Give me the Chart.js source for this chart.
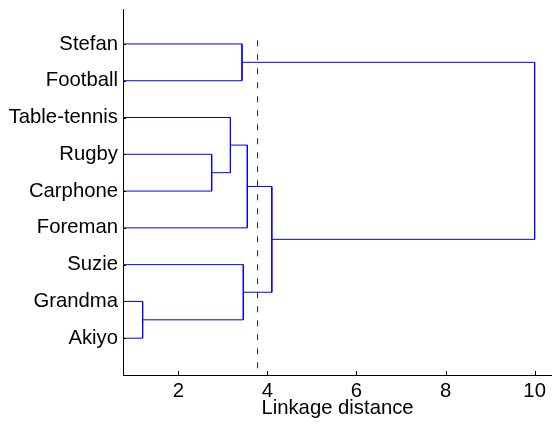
<!DOCTYPE html>
<html>
<head>
<meta charset="utf-8">
<script src="https://cdn.jsdelivr.net/npm/chart.js@4/dist/chart.umd.min.js"></script>
<style>
  html, body { margin: 0; padding: 0; background: #fff; }
  #wrap { width: 552px; height: 425px; position: relative; }
</style>
</head>
<body>
<div id="wrap"><canvas id="c"></canvas></div>
<script>
// Leaves, listed top to bottom in dendrogram order
const leaves = ['Stefan', 'Football', 'Table-tennis', 'Rugby', 'Carphone', 'Foreman', 'Suzie', 'Grandma', 'Akiyo'];

// Linkage table: merge k joins nodes mergeA[k] and mergeB[k] at mergeHeight[k].
// Ids 0..8 are leaves; id 9 + k is the cluster formed by merge k.
const mergeA = [7, 3, 2, 0, 6, 11, 14, 12];
const mergeB = [8, 4, 10, 1, 9, 5, 13, 15];
const mergeHeight = [1.20, 2.75, 3.17, 3.43, 3.46, 3.55, 4.10, 10.0];

// Cut-off threshold drawn as a dashed line
const cutoff = 3.78;
const cutoffTop = 0.9;

const xTicks = [2, 4, 6, 8, 10];

const LINK_COLOR = '#0000ff';
const FONT = { family: '"Liberation Sans", Arial, Helvetica, sans-serif', size: 20.3 };

// Node positions: leaves sit at 1..n, merges sit halfway between their children
const nodeY = leaves.map((_, i) => i + 1);
const nodeH = leaves.map(() => 0);
const linkSets = [];
mergeA.forEach((a, k) => {
  const b = mergeB[k];
  const h = mergeHeight[k];
  linkSets.push({
    data: [
      { x: nodeH[a], y: nodeY[a] },
      { x: h, y: nodeY[a] },
      { x: h, y: nodeY[b] },
      { x: nodeH[b], y: nodeY[b] }
    ],
    borderColor: LINK_COLOR,
    borderWidth: 1,
    showLine: true,
    pointRadius: 0,
    tension: 0,
    fill: false
  });
  nodeY.push((nodeY[a] + nodeY[b]) / 2);
  nodeH.push(h);
});

const cutSet = {
  data: [{ x: cutoff, y: cutoffTop }, { x: cutoff, y: 10 }],
  borderColor: '#222',
  borderWidth: 1,
  borderDash: [6, 8],
  showLine: true,
  pointRadius: 0,
  fill: false
};

// Short tick marks pointing into the plot area
const innerTicks = {
  id: 'innerTicks',
  afterDatasetsDraw(chart) {
    const { ctx, chartArea, scales } = chart;
    ctx.save();
    ctx.strokeStyle = '#000';
    ctx.lineWidth = 1;
    ctx.beginPath();
    scales.x.ticks.forEach(t => {
      const px = Math.round(scales.x.getPixelForValue(t.value)) + 0.5;
      ctx.moveTo(px, chartArea.bottom);
      ctx.lineTo(px, chartArea.bottom - 4);
    });
    scales.y.ticks.forEach(t => {
      const py = Math.round(scales.y.getPixelForValue(t.value)) + 0.5;
      ctx.moveTo(chartArea.left, py);
      ctx.lineTo(chartArea.left + 3, py);
    });
    ctx.stroke();
    ctx.restore();
  }
};

new Chart(document.getElementById('c'), {
  type: 'scatter',
  data: { datasets: [...linkSets, cutSet] },
  options: {
    responsive: true,
    maintainAspectRatio: false,
    animation: false,
    layout: { padding: { top: 9, right: 0, left: 0, bottom: 0 } },
    plugins: {
      legend: { display: false },
      tooltip: { enabled: false }
    },
    scales: {
      x: {
        type: 'linear',
        min: 0.759,
        max: 10.39,
        afterBuildTicks: s => { s.ticks = xTicks.map(v => ({ value: v })); },
        afterFit: s => { s.height = 50; s.paddingLeft = 0; s.paddingRight = 0; },
        grid: { display: false, drawTicks: false },
        border: { display: true, color: '#000', width: 1 },
        ticks: { color: '#000', font: FONT, padding: 4, maxRotation: 0 },
        title: {
          display: true,
          text: 'Linkage distance',
          color: '#000',
          font: FONT,
          padding: { top: 0, bottom: 4 }
        }
      },
      y: {
        type: 'linear',
        reverse: true,
        min: 0.05,
        max: 10,
        afterBuildTicks: s => { s.ticks = leaves.map((_, i) => ({ value: i + 1 })); },
        afterFit: s => { s.width = 123; s.paddingTop = 0; s.paddingBottom = 0; },
        grid: { display: false, drawTicks: false },
        border: { display: true, color: '#000', width: 1 },
        ticks: {
          color: '#000',
          font: FONT,
          padding: 5,
          callback: v => leaves[v - 1]
        }
      }
    }
  },
  plugins: [innerTicks]
});
</script>
</body>
</html>
